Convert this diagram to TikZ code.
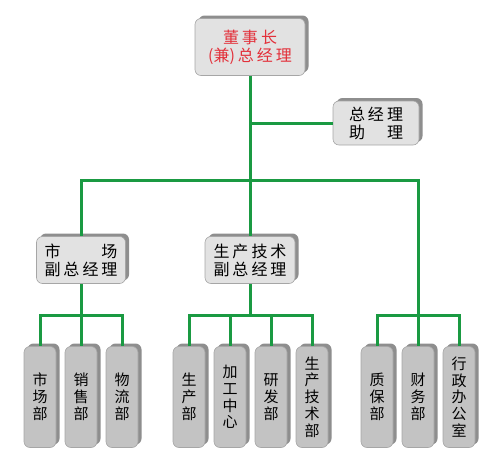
\documentclass[tikz,border=0pt]{standalone}
\usepackage{fontspec}
\newfontfamily\cjk{Noto Sans CJK SC}
\usetikzlibrary{shadows}
\definecolor{linegreen}{HTML}{1A9A42}
\definecolor{boxgray}{HTML}{C3C3C3}
\definecolor{boxlight}{HTML}{E2E2E2}
\definecolor{shadegray}{HTML}{8E8E8E}
\definecolor{titlered}{HTML}{E3303A}
\newcommand{\gap}{\hspace{3pt}}

\begin{document}
\begin{tikzpicture}[x=1pt, y=-1pt,
 box/.style={draw=gray!70, rounded corners=6pt, line width=.6pt,
   drop shadow={shadow xshift=3.5pt, shadow yshift=3pt, opacity=1, fill=shadegray},
   align=center, inner sep=0pt},
 head/.style={box, fill=boxlight, minimum height=47pt, font=\cjk\fontsize{16}{18}\selectfont},
 dept/.style={box, fill=boxgray, minimum width=32pt, minimum height=101pt, font=\cjk\fontsize{15}{16.8}\selectfont},
 link/.style={linegreen, line width=3pt}]
\useasboundingbox (0,0) rectangle (500,463);

\node[head, minimum width=110pt, minimum height=57pt, text=titlered] (chair) at (250,47) {董\gap{}事\gap{}长\\(兼)\gap{}总\gap{}经\gap{}理};
\node[head, minimum width=86pt, minimum height=44pt] (asst) at (376,123) {总\gap{}经\gap{}理\\\makebox[54pt]{助\hfill{}理}};
\node[head, minimum width=89pt] (mktvp) at (81,260) {\makebox[73pt]{市\hfill{}场}\\副\gap{}总\gap{}经\gap{}理};
\node[head, minimum width=90pt] (techvp) at (250,260) {生\gap{}产\gap{}技\gap{}术\\副\gap{}总\gap{}经\gap{}理};

\foreach \name/\x/\txt in {mkt/40/{市\\场\\部}, sales/81/{销\\售\\部}, logi/122/{物\\流\\部},
  prod/189/{生\\产\\部}, proc/230/{加\\工\\中\\心}, rd/271/{研\\发\\部}, ptech/312/{生\\产\\技\\术\\部},
  qa/377/{质\\保\\部}, fin/418/{财\\务\\部}, admin/459/{行\\政\\办\\公\\室}}
 \node[dept] (\name) at (\x,397) {\txt};

\coordinate (hub) at (250,180);
\coordinate (g1) at (81,315);
\coordinate (g2) at (250,315);
\coordinate (g3) at (418,315);

\draw[link] (chair) -- (techvp);
\draw[link] (chair.south |- asst.west) -- (asst.west);
\draw[link] (mktvp.north) |- (hub) -| (fin.north);
\draw[link] (mkt.north) |- (g1) -| (logi.north);
\draw[link] (mktvp) -- (sales);
\draw[link] (prod.north) |- (g2) -| (ptech.north);
\draw[link] (techvp.south) -- (g2);
\draw[link] (proc.north) -- (proc.north |- g2);
\draw[link] (rd.north) -- (rd.north |- g2);
\draw[link] (qa.north) |- (g3) -| (admin.north);
\end{tikzpicture}
\end{document}
